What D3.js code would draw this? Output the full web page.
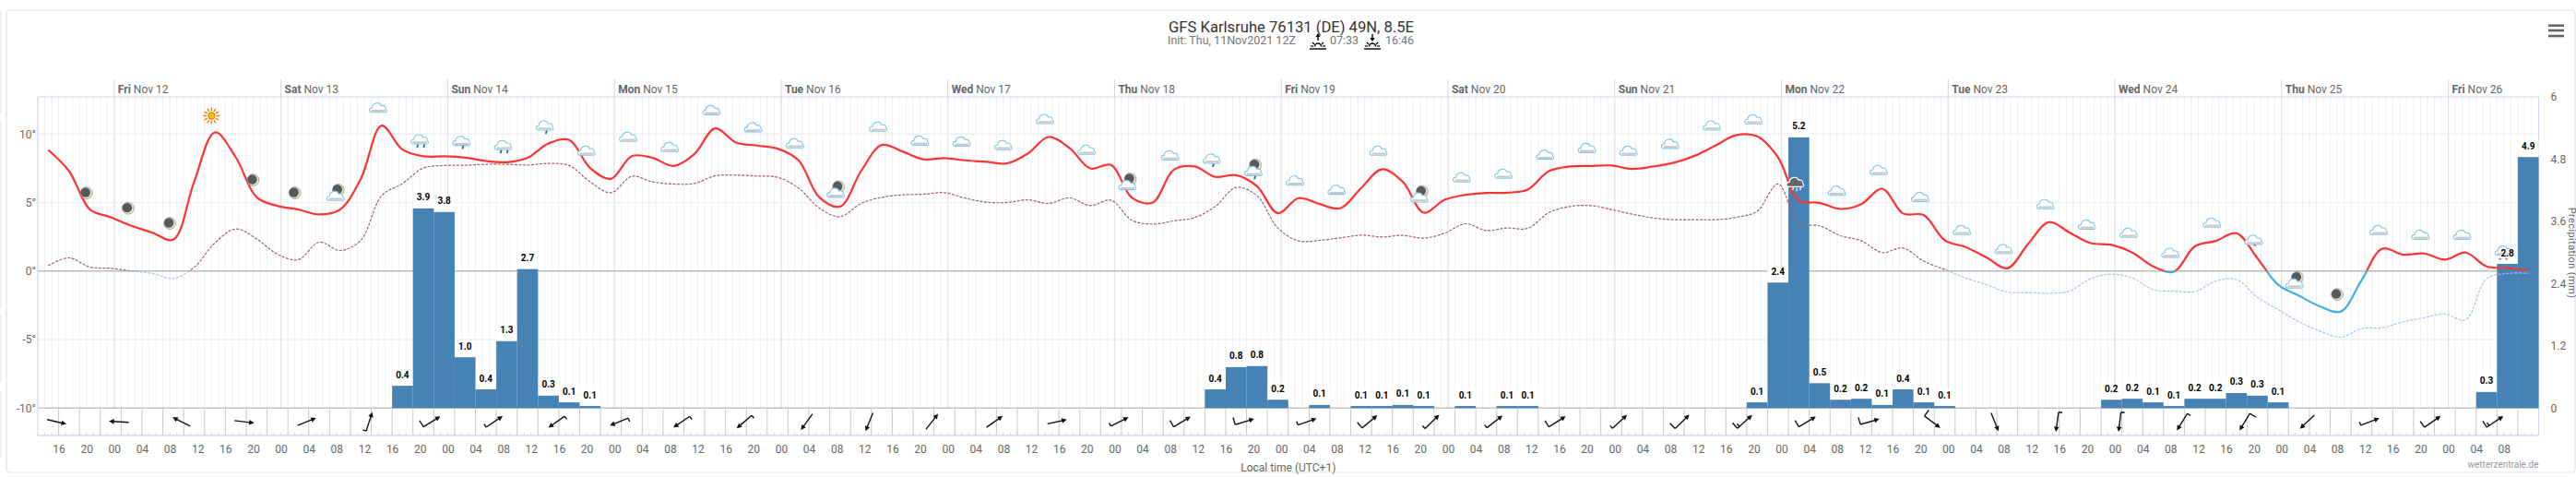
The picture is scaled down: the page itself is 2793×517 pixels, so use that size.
<!DOCTYPE html>
<html>
<head>
<meta charset="utf-8">
<script src="https://d3js.org/d3.v7.min.js"></script>
<style>
  body { margin: 0; background: #fff; }
  text { font-family: Roboto, "Open Sans", sans-serif; }
</style>
</head>
<body>
<div id="chart"></div>
<script>
// temperature and dew point, one reading every 3 hours from Nov 11 14:30
var tempValues = [8.84,7.29,4.49,3.93,3.30,2.80,2.29,6.51,10.12,8.30,5.38,4.76,4.49,4.13,4.49,6.73,10.61,8.86,8.37,8.37,
  8.28,8.03,7.94,8.26,9.31,9.56,7.52,6.73,8.39,8.26,7.67,8.53,10.41,9.38,9.16,8.93,8.08,5.38,4.71,7.29,
  9.20,8.71,8.15,8.24,8.08,7.97,7.85,8.57,9.78,8.98,7.49,7.74,5.34,5.00,7.38,7.63,6.87,7.00,6.19,4.22,
  5.32,4.89,4.58,6.06,7.43,6.51,4.26,5.20,5.56,5.70,5.72,5.95,7.29,7.63,7.67,7.70,7.45,7.63,7.90,8.41,
  9.16,9.92,9.83,8.30,5.16,4.98,4.53,4.89,6.01,4.20,4.08,2.25,1.75,1.00,0.20,1.97,3.57,2.80,2.04,1.91,
  1.35,0.34,-0.05,1.80,2.20,2.76,0.94,-1.00,-1.80,-2.58,-2.96,-0.68,1.64,1.19,1.28,0.83,1.35,0.34,0.22,0.04];
var dewValues = [0.40,0.96,0.29,0.20,0.00,-0.18,-0.54,0.27,2.06,3.07,2.35,1.23,0.83,2.11,1.50,2.25,5.50,6.39,7.52,7.70,
  7.72,7.79,7.79,7.74,7.85,7.70,6.51,5.72,6.91,6.51,6.35,6.39,6.95,7.00,6.93,6.84,6.06,4.60,3.97,4.93,
  5.38,5.56,5.61,5.72,5.32,5.03,5.00,5.20,4.93,5.34,4.78,5.16,3.70,3.43,3.66,3.90,4.71,6.10,5.50,3.14,
  2.20,2.24,2.42,2.62,2.49,2.60,2.40,2.76,3.45,2.96,3.14,3.12,4.26,4.71,4.78,4.49,4.15,3.88,3.75,3.75,
  3.75,3.92,4.37,6.35,3.48,3.30,2.58,2.20,1.35,1.68,0.72,0.11,-0.50,-1.00,-1.53,-1.57,-1.62,-1.46,-0.56,-0.23,
  -0.50,-1.35,-1.46,-1.50,-0.74,-0.61,-1.91,-2.81,-3.70,-4.38,-4.83,-4.20,-4.13,-3.70,-3.41,-3.14,-3.55,-0.56,-0.18,-0.16];

// precipitation: 3 hour slots counted from Nov 11 16:00, empty slots left out
var precipSlots = [16,17,18,19,20,21,22,23,24,25,55,56,57,58,60,62,63,64,65,67,69,70,81,82,83,84,85,86,87,88,89,90,
  98,99,100,101,102,103,104,105,106,116,117,118];
var precipValues = [0.43,3.85,3.78,0.98,0.36,1.29,2.68,0.24,0.11,0.04,0.36,0.79,0.81,0.16,0.06,0.04,0.04,0.06,0.04,0.04,0.04,0.04,
  0.11,2.42,5.22,0.48,0.16,0.18,0.06,0.36,0.11,0.04,0.16,0.18,0.11,0.04,0.18,0.18,0.29,0.24,0.11,0.31,2.78,4.84];
var precipLabels = ["0.4","3.9","3.8","1.0","0.4","1.3","2.7","0.3","0.1","0.1","0.4","0.8","0.8","0.2","0.1","0.1","0.1","0.1","0.1","0.1","0.1","0.1",
  "0.1","2.4","5.2","0.5","0.2","0.2","0.1","0.4","0.1","0.1","0.2","0.2","0.1","0.1","0.2","0.2","0.3","0.3","0.1","0.3","2.8","4.9"];

// weather symbols every 6 hours from Nov 11 20:00, height given in degrees on the temperature axis
var iconTypes = ["moon","moon","moon","sun","moon","moon","moonCloud","cloud","rain","drizzle","rain","drizzle","cloud","cloud",
  "cloud","cloud","cloud","cloud","moonCloud","cloud","cloud","cloud","cloud","cloud","cloud","moonCloud","cloud","drizzle","moonDrizzle",
  "cloud","cloud","cloud","moonCloud","cloud","cloud","cloud","cloud","cloud","cloud","cloud","cloud","storm","cloud","cloud","cloud",
  "cloud","cloud","cloud","cloud","cloud","cloud","cloud","sleet","moonCloud","moon","cloud","cloud","cloud","snow"];
var iconTemps = [5.70,4.58,3.48,11.33,6.64,5.70,5.72,11.89,9.58,9.47,9.16,10.59,8.75,9.76,
  9.02,11.71,10.46,9.29,5.95,10.50,9.49,9.42,9.16,11.06,8.82,6.51,8.41,8.17,7.47,
  6.57,5.90,8.75,5.61,6.80,7.07,8.46,8.95,8.75,9.25,10.59,11.04,6.46,5.83,7.34,5.38,
  2.96,1.57,4.85,3.36,2.76,1.30,3.50,2.24,-0.67,-1.71,2.96,2.62,2.62,1.46];

// wind every 9 hours: heading of the arrow in degrees, speed in knots decides the barbs
var windHeading = [103,273,297,97,68,18,58,56,235,248,236,229,216,202,38,55,78,63,59,73,
  71,50,46,52,58,47,46,48,59,74,127,158,188,187,212,211,227,69,55,56];
var windSpeed = [0,0,0,0,0,5,10,5,5,5,5,5,0,0,0,0,0,5,10,10,
  5,10,5,5,10,5,10,15,10,10,10,0,5,5,5,10,0,5,10,15];

var dayNames = ["Fri","Sat","Sun","Mon","Tue","Wed","Thu","Fri","Sat","Sun","Mon","Tue","Wed","Thu","Fri"];
var dayDates = ["Nov 12","Nov 13","Nov 14","Nov 15","Nov 16","Nov 17","Nov 18","Nov 19","Nov 20","Nov 21","Nov 22","Nov 23","Nov 24","Nov 25","Nov 26"];
var tempTicks = [10,5,0,-5,-10];
var precipTicks = [0,1.2,2.4,3.6,4.8,6];

var width = 2793, height = 517;
var left = 41, right = 2752.5, top_ = 105, bottom = 442.3, stripBottom = 472;
var HOUR = 3600000;

var svg = d3.select("#chart").append("svg")
    .attr("width", width).attr("height", height)
    .style("display", "block");

// the card and the neighbouring panels cut off at the left edge
[[-10,11,11,112],[-10,130,11,205],[-10,341,11,74],[-10,423,11,73]].forEach(function(p) {
    svg.append("rect").attr("x", p[0]).attr("y", p[1]).attr("width", p[2]).attr("height", p[3]).attr("rx", 3)
        .attr("fill", "#fff").attr("stroke", "#e3e5ea");
});
svg.append("rect").attr("x", 7).attr("y", 11).attr("width", 2785).attr("height", 501).attr("rx", 4)
    .attr("fill", "#fff").attr("stroke", "#dfe2e8").attr("stroke-width", 1.2);

var t0 = Date.UTC(2021, 10, 11, 13), t1 = Date.UTC(2021, 10, 26, 13);
var x = d3.scaleUtc().domain([t0, t1]).range([left, right]);
var yTemp = d3.scaleLinear().domain([-10, 12.71]).range([bottom, top_]);
var yPrecip = d3.scaleLinear().domain([0, 6]).range([bottom, top_]);

var tempTimes = tempValues.map(function(d, i) { return Date.UTC(2021, 10, 11, 14, 30) + i * 3 * HOUR; });
var iconTimes = iconTypes.map(function(d, i) { return Date.UTC(2021, 10, 11, 20) + i * 6 * HOUR; });
var windTimes = windHeading.map(function(d, i) { return Date.UTC(2021, 10, 11, 15, 42) + i * 9 * HOUR; });
var barStart = function(s) { return Date.UTC(2021, 10, 11, 16) + s * 3 * HOUR; };

var hours = d3.utcHour.range(new Date(t0), new Date(t1 + 1));
var days = d3.utcDay.range(new Date(t0), new Date(t1));

// grid
var grid = svg.append("g");
grid.selectAll(".hour").data(hours).enter().append("line")
    .attr("x1", d => x(d)).attr("x2", d => x(d)).attr("y1", top_).attr("y2", bottom)
    .attr("stroke", "#f0f0f0");
grid.selectAll(".day").data(days).enter().append("line")
    .attr("x1", d => x(d)).attr("x2", d => x(d)).attr("y1", top_).attr("y2", bottom)
    .attr("stroke", "#e2e2e2").attr("stroke-width", 1.2);
grid.selectAll(".ytick").data(tempTicks).enter().append("line")
    .attr("x1", left).attr("x2", right).attr("y1", d => yTemp(d)).attr("y2", d => yTemp(d))
    .attr("stroke", d => d == 0 ? "#bdbdbd" : d == -10 ? "#c4c4c4" : "#efefef")
    .attr("stroke-width", d => d == -10 || d == 0 ? 1.6 : 1.4);

// wind strip
var threeH = d3.range(0, 119).map(i => new Date(barStart(i)));
grid.selectAll(".strip").data(threeH).enter().append("line")
    .attr("x1", d => x(d)).attr("x2", d => x(d)).attr("y1", bottom).attr("y2", stripBottom)
    .attr("stroke", "#c9c9c9");
grid.selectAll(".htick").data(hours).enter().append("line")
    .attr("x1", d => x(d)).attr("x2", d => x(d)).attr("y1", stripBottom - 3).attr("y2", stripBottom)
    .attr("stroke", "#ccd6eb");

// plot frame
grid.append("line").attr("x1", left).attr("x2", right).attr("y1", top_).attr("y2", top_).attr("stroke", "#ccd6eb").attr("stroke-width", 1.2);
grid.append("line").attr("x1", left).attr("x2", right).attr("y1", stripBottom).attr("y2", stripBottom).attr("stroke", "#ccd6eb").attr("stroke-width", 1.4);
grid.append("line").attr("x1", left).attr("x2", left).attr("y1", top_).attr("y2", stripBottom).attr("stroke", "#ccd6eb");
grid.append("line").attr("x1", right).attr("x2", right).attr("y1", top_).attr("y2", stripBottom).attr("stroke", "#ccd6eb");

// day band on top
var dayBand = svg.append("g").selectAll("g").data(days).enter().append("g");
dayBand.append("line").attr("x1", d => x(d)).attr("x2", d => x(d)).attr("y1", 86).attr("y2", top_).attr("stroke", "#ccd6eb");
var dayText = dayBand.append("text")
    .attr("x", d => x(d) + 4).attr("y", 101)
    .attr("font-size", 12).attr("fill", "#666");
dayText.append("tspan").attr("font-weight", "bold").text((d, i) => dayNames[i]);
dayText.append("tspan").text((d, i) => " " + dayDates[i]);

// white boxes behind the rain labels, then the bars
svg.append("g").selectAll("rect").data(precipSlots).enter().append("rect")
    .attr("x", d => x(barStart(d))).attr("width", d => x(barStart(d + 1)) - x(barStart(d)))
    .attr("y", (d, i) => yPrecip(precipValues[i]) - 18).attr("height", 18)
    .attr("fill", "#fff");
svg.append("g").selectAll("rect").data(precipSlots).enter().append("rect")
    .attr("x", d => x(barStart(d))).attr("width", d => x(barStart(d + 1)) - x(barStart(d)))
    .attr("y", (d, i) => yPrecip(precipValues[i]))
    .attr("height", (d, i) => yPrecip(0) - yPrecip(precipValues[i]))
    .attr("fill", "#4682b4");

// lines change colour at the zero line
var defs = svg.append("defs");
defs.append("clipPath").attr("id", "above").append("rect")
    .attr("x", left).attr("width", right - left).attr("y", top_).attr("height", yTemp(0) - top_);
defs.append("clipPath").attr("id", "below").append("rect")
    .attr("x", left).attr("width", right - left).attr("y", yTemp(0)).attr("height", bottom - yTemp(0));

var lineGen = d3.line()
    .x((d, i) => x(tempTimes[i]))
    .y(d => yTemp(d))
    .curve(d3.curveCatmullRom.alpha(0.5));

function drawLine(values, colorUp, colorDown, w, dash) {
    [["above", colorUp], ["below", colorDown]].forEach(function(c) {
        svg.append("path").attr("d", lineGen(values))
            .attr("clip-path", "url(#" + c[0] + ")")
            .attr("fill", "none").attr("stroke", c[1]).attr("stroke-width", w)
            .attr("stroke-linejoin", "round")
            .attr("stroke-dasharray", dash);
    });
}
drawLine(dewValues, "#a0606e", "#a3c6e8", 1.2, "3,1.5");
drawLine(tempValues, "#ff3333", "#43ade8", 2.2, null);

// weather symbols
function cloud(g, dx, dy, dark) {
    var c = g.append("g").attr("transform", "translate(" + dx + "," + dy + ")");
    c.append("path")
        .attr("d", "M-7,4.5C-10.5,4.5 -10.5,-0.5 -6.5,-0.5C-6,-6.5 2,-7 3.5,-2.5C6.5,-3.5 9,-1 8,1C10,2 9.5,4.5 7.5,4.5Z")
        .attr("fill", dark ? "#666" : "#fff")
        .attr("stroke", dark ? "#fff" : "#84c6e6").attr("stroke-width", 1.1);
    if (!dark) {
        c.append("path").attr("d", "M-7.5,2.8H7.5").attr("stroke", "#c6c6c6").attr("stroke-width", 2);
    }
}
function moon(g, dx, dy) {
    var m = g.append("g").attr("transform", "translate(" + dx + "," + dy + ")");
    m.append("circle").attr("r", 6.4).attr("fill", "#ebe5c4").attr("stroke", "#777").attr("stroke-width", 0.6);
    m.append("circle").attr("r", 5.2).attr("cx", -1).attr("cy", -0.6).attr("fill", "#59595b");
}
function drops(g, list, color) {
    list.forEach(function(p) {
        g.append("line").attr("x1", p[0] + 1).attr("y1", p[1]).attr("x2", p[0]).attr("y2", p[1] + 3.5)
            .attr("stroke", color).attr("stroke-width", 1.8);
    });
}
function stars(g, list) {
    list.forEach(function(p) {
        g.append("text").attr("x", p[0]).attr("y", p[1]).attr("text-anchor", "middle")
            .attr("font-size", 8).attr("fill", "#777").text("*");
    });
}
function sun(g) {
    d3.range(12).forEach(function(i) {
        g.append("line").attr("y1", -5.2).attr("y2", -9)
            .attr("transform", "rotate(" + i * 30 + ")")
            .attr("stroke", "#f07d00").attr("stroke-width", 1.4);
    });
    g.append("circle").attr("r", 3.6).attr("fill", "#ffbe00").attr("stroke", "#f07d00").attr("stroke-width", 1.2);
}
var iconG = svg.append("g").selectAll("g").data(iconTypes).enter().append("g")
    .attr("transform", (d, i) => "translate(" + x(iconTimes[i]) + "," + yTemp(iconTemps[i]) + ")");
iconG.each(function(d) {
    var g = d3.select(this);
    if (d == "moon") moon(g, 0, 0);
    if (d == "sun") sun(g);
    if (d == "cloud") cloud(g, 0, 0);
    if (d == "drizzle") { cloud(g, 0, 0); drops(g, [[1, 5]], "#1e6fae"); }
    if (d == "rain") { cloud(g, 0, 0); drops(g, [[-3, 5], [4, 5]], "#1e6fae"); }
    if (d == "moonCloud") { moon(g, 2, -3); cloud(g, -1, 4); }
    if (d == "moonDrizzle") { moon(g, 2, -4); cloud(g, 0, 3); drops(g, [[1, 8]], "#1e6fae"); }
    if (d == "storm") { cloud(g, 0, 0, true); drops(g, [[-3, 5], [1, 6], [5, 5]], "#bfe0f5"); }
    if (d == "sleet") { cloud(g, 0, 0); stars(g, [[1, 8]]); }
    if (d == "snow") { cloud(g, 0, 0); stars(g, [[-4, 12], [3, 12]]); }
});

// wind arrows
var arrow = svg.append("g").selectAll("g").data(windHeading).enter().append("g")
    .attr("transform", (d, i) => "translate(" + x(windTimes[i]) + "," + ((bottom + stripBottom) / 2) + ") rotate(" + d + ")");
arrow.append("line").attr("x1", 0).attr("x2", 0).attr("y1", 10.5).attr("y2", -8)
    .attr("stroke", "#111").attr("stroke-width", 1.4);
arrow.append("path").attr("d", "M0,-11L2.8,-5.5L-2.8,-5.5Z").attr("fill", "#111");
arrow.each(function(d, i) {
    var g = d3.select(this), s = windSpeed[i];
    if (s >= 10) g.append("line").attr("x1", 0).attr("x2", -8).attr("y1", 10.5).attr("y2", 10.5).attr("stroke", "#111").attr("stroke-width", 1.4);
    if (s == 5) g.append("line").attr("x1", 0).attr("x2", -4).attr("y1", 10.5).attr("y2", 10.5).attr("stroke", "#111").attr("stroke-width", 1.4);
    if (s == 15) g.append("line").attr("x1", 0).attr("x2", -4).attr("y1", 7.5).attr("y2", 7.5).attr("stroke", "#111").attr("stroke-width", 1.4);
});

// rain labels on top of everything
svg.append("g").selectAll("text").data(precipSlots).enter().append("text")
    .attr("x", d => x(barStart(d) + 1.5 * HOUR))
    .attr("y", (d, i) => yPrecip(precipValues[i]) - 8.5)
    .attr("text-anchor", "middle")
    .attr("font-size", 10).attr("font-weight", "bold").attr("fill", "#000")
    .attr("stroke", "#fff").attr("stroke-width", 2).attr("paint-order", "stroke")
    .text((d, i) => precipLabels[i]);

// axes
var axisStyle = function(g) {
    g.select(".domain").remove();
    g.selectAll("line").remove();
    g.selectAll("text").attr("fill", "#666").attr("font-size", 12).attr("font-family", "Roboto, sans-serif");
};
svg.append("g").attr("transform", "translate(" + left + ",0)")
    .call(d3.axisLeft(yTemp).tickValues(tempTicks).tickFormat(d => d + "°").tickSize(0).tickPadding(2))
    .call(axisStyle);
svg.append("g").attr("transform", "translate(" + right + ",0)")
    .call(d3.axisRight(yPrecip).tickValues(precipTicks).tickFormat(d => d).tickSize(0).tickPadding(13))
    .call(axisStyle);
var timeTicks = d3.utcHour.range(new Date(Date.UTC(2021, 10, 11, 16)), new Date(Date.UTC(2021, 10, 26, 9)), 4);
svg.append("g").attr("transform", "translate(0," + (stripBottom + 4) + ")")
    .call(d3.axisBottom(x).tickValues(timeTicks).tickFormat(d3.utcFormat("%H")).tickSize(0).tickPadding(6))
    .call(axisStyle);

svg.append("text").attr("x", (left + right) / 2).attr("y", 511).attr("text-anchor", "middle")
    .attr("font-size", 12).attr("fill", "#666").text("Local time (UTC+1)");
svg.append("text").attr("transform", "translate(2784.5,274) rotate(90)").attr("text-anchor", "middle")
    .attr("font-size", 11).attr("letter-spacing", 0.4).attr("fill", "#666").text("Precipitation (mm)");
svg.append("text").attr("x", right).attr("y", 507).attr("text-anchor", "end")
    .attr("font-size", 10).attr("fill", "#999").text("wetterzentrale.de");

// title block
svg.append("text").attr("x", 1400).attr("y", 35).attr("text-anchor", "middle")
    .attr("font-size", 16.6).attr("fill", "#333").text("GFS Karlsruhe 76131 (DE) 49N, 8.5E");
svg.append("text").attr("x", 1266).attr("y", 48).attr("font-size", 12.5).attr("fill", "#777").text("Init: Thu, 11Nov2021 12Z");
svg.append("text").attr("x", 1442).attr("y", 48).attr("font-size", 12.5).attr("fill", "#777").text("07:33");
svg.append("text").attr("x", 1502).attr("y", 48).attr("font-size", 12.5).attr("fill", "#777").text("16:46");

function sunMark(cx, up) {
    var g = svg.append("g").attr("transform", "translate(" + cx + ",0)").attr("stroke", "#000").attr("fill", "none");
    g.append("line").attr("x1", -9).attr("x2", 9).attr("y1", 53).attr("y2", 53).attr("stroke-width", 1.4);
    g.append("path").attr("d", "M-3.5,50.5A3.5,3.5 0 0 1 3.5,50.5").attr("stroke-width", 1.4);
    [[-8,50,-5,50],[8,50,5,50],[-6,46,-4,48],[6,46,4,48]].forEach(function(r) {
        g.append("line").attr("x1", r[0]).attr("y1", r[1]).attr("x2", r[2]).attr("y2", r[3]).attr("stroke-width", 1.2);
    });
    g.append("line").attr("x1", 0).attr("x2", 0).attr("y1", 37).attr("y2", 44).attr("stroke-width", 1.4);
    g.append("path").attr("d", up ? "M0,36L2.5,40H-2.5Z" : "M0,45L2.5,41H-2.5Z").attr("fill", "#000").attr("stroke", "none");
}
sunMark(1429, true);
sunMark(1488, false);

// export menu
[27.7, 33, 39].forEach(function(y) {
    svg.append("line").attr("x1", 2763).attr("x2", 2780).attr("y1", y).attr("y2", y)
        .attr("stroke", "#666").attr("stroke-width", 2.6);
});
</script>
</body>
</html>
